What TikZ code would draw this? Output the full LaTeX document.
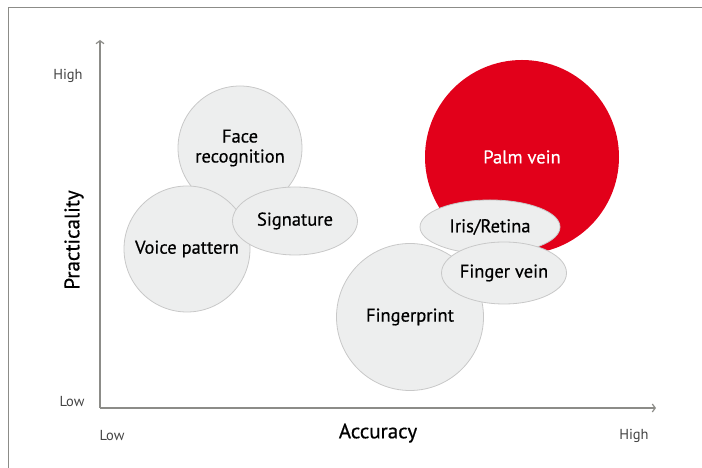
\documentclass[tikz,border=0pt]{standalone}
\usepackage{fontspec}
\setmainfont{PT Sans}
\newfontfamily\labelfont[FakeBold=0.5]{PT Sans}
\usetikzlibrary{shapes.geometric,arrows.meta}

\definecolor{bubblefill}{HTML}{EDEEEE}
\definecolor{bubbleline}{HTML}{C8C8C8}
\definecolor{palmred}{HTML}{E2001A}
\definecolor{axisgray}{HTML}{8C8C88}
\definecolor{ticktext}{HTML}{444444}

\tikzset{
  bubble/.style={circle, fill=bubblefill, draw=bubbleline, line width=0.8pt, inner sep=0pt, align=center, font=\labelfont\fontsize{18.5}{20}\selectfont},
  oval/.style={ellipse, fill=bubblefill, draw=bubbleline, line width=0.8pt, inner sep=0pt, align=center, font=\labelfont\fontsize{18.5}{20}\selectfont},
  tick/.style={text=ticktext, font=\fontsize{14.5}{16}\selectfont},
  axistitle/.style={font=\labelfont\fontsize{21}{23}\selectfont}
}

\begin{document}
\begin{tikzpicture}[x=1pt, y=1pt]

\useasboundingbox (0,0) rectangle (702,468) ;

% frame
\draw [axisgray, line width=1pt] (702,460) -- (8,460) -- (8,0) ;

% axes
\coordinate (origin) at (100,60) ;
\coordinate (ytip) at (100,428) ;
\coordinate (xtip) at (656,60) ;
\draw [axisgray, line width=1.2pt, -{Straight Barb[length=3pt, width=8pt]}] (origin) -- (ytip) ;
\draw [axisgray, line width=1.2pt, -{Straight Barb[length=3pt, width=8pt]}] (origin) -- (xtip) ;

\node [tick] (yhigh) at (68,392) {High} ;
\node [tick] (ylow) at (72,66) {Low} ;
\node [tick] (xlow) at (112,32) {Low} ;
\node [tick] (xhigh) at (634,32) {High} ;
\node [axistitle] (acc) at (378,35) {Accuracy} ;
\node [axistitle, rotate=90] (prac) at (74,228) {Practicality} ;

% left group
\node [bubble, minimum size=124pt] (face) at (240,320) {Face\\recognition} ;
\node [bubble, minimum size=126pt] (voice) at (187,219) {Voice pattern} ;
\node [oval, minimum width=125pt, minimum height=68pt] (sign) at (295,247) {Signature} ;

% right group
\node [circle, fill=palmred, inner sep=0pt, minimum size=194pt, text=white, font=\labelfont\fontsize{18.5}{20}\selectfont] (palm) at (522,311) {Palm vein} ;
\node [bubble, minimum size=147pt] (fprint) at (410,151) {Fingerprint} ;
\node [oval, minimum width=140pt, minimum height=54pt] (iris) at (490,241) {Iris/Retina} ;
\node [oval, minimum width=124pt, minimum height=62pt] (fvein) at (504,195) {Finger vein} ;

\end{tikzpicture}
\end{document}
